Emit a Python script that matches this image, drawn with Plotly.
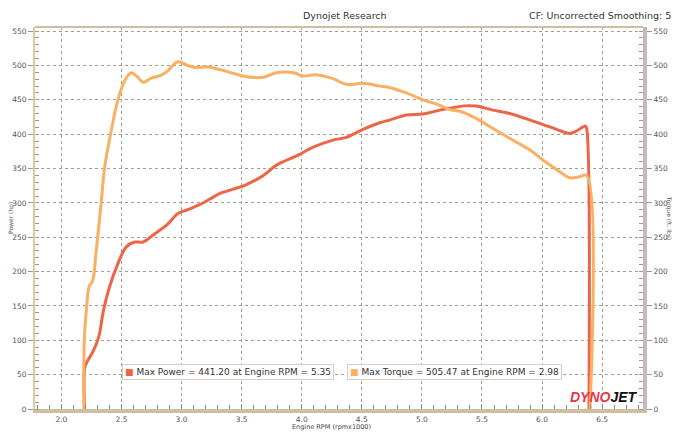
import plotly.graph_objects as go

# engine rpm (x1000) and readings taken off the dyno sheet
torque_rpm = [2.187, 2.19, 2.21, 2.23, 2.26, 2.29, 2.33, 2.36, 2.41, 2.47, 2.53, 2.58,
              2.63, 2.68, 2.74, 2.83, 2.89, 2.95, 2.98, 3.04, 3.11, 3.21, 3.32, 3.54,
              3.68, 3.79, 3.93, 4.01, 4.12, 4.26, 4.37, 4.51, 4.65, 4.73, 4.87, 5.01,
              5.15, 5.23, 5.33, 5.45, 5.59, 5.73, 5.90, 6.01, 6.12, 6.23, 6.31, 6.37,
              6.40]
torque_lbft = [0, 100, 148, 178, 187, 231, 299, 352, 401, 450, 479, 489.5,
               484, 475.5, 481, 486, 493, 504, 505.5, 500.7, 497, 498, 494, 483.7,
               482.8, 489.5, 489.5, 484.7, 486.6, 480.8, 472.6, 474, 470, 468, 460, 450,
               442, 436, 432.7, 423, 408.4, 394, 376.8, 362, 348.7, 336.5, 338, 340,
               0]

power_rpm = [2.193, 2.195, 2.22, 2.26, 2.31, 2.35, 2.40, 2.47, 2.54, 2.61, 2.68, 2.76,
             2.875, 2.97, 3.05, 3.14, 3.24, 3.32, 3.53, 3.68, 3.79, 3.97, 4.09, 4.26,
             4.37, 4.51, 4.65, 4.73, 4.87, 5.01, 5.15, 5.35, 5.45, 5.59, 5.73, 5.90,
             6.01, 6.12, 6.23, 6.29, 6.36, 6.37, 6.39]
power_hp = [0, 61, 70.7, 82.8, 104.7, 143.6, 177.6, 211.7, 236, 243, 243, 253,
            267.5, 284.5, 290, 296.6, 306, 313.7, 325.8, 340, 355, 369.5, 380.7, 391.4,
            395.3, 407, 416.6, 420.5, 427.8, 429.3, 435, 441.2, 441, 435, 430, 420.5,
            414, 407, 401, 405, 412, 409, 0]

y_ticks = [0, 50, 100, 150, 200, 250, 300, 350, 400, 450, 500, 550]
x_ticks = [2.0, 2.5, 3.0, 3.5, 4.0, 4.5, 5.0, 5.5, 6.0, 6.5]

FONT = "DejaVu Sans"
GRID = "#a39d8e"

fig = go.Figure()
fig.add_trace(go.Scatter(x=power_rpm, y=power_hp, mode="lines",
                         line=dict(color="#ee6446", width=3), line_shape="spline",
                         name="Power", showlegend=False))
fig.add_trace(go.Scatter(x=torque_rpm, y=torque_lbft, mode="lines", yaxis="y2",
                         line=dict(color="#f9b062", width=3), line_shape="spline",
                         name="Torque", showlegend=False))

yax = dict(range=[0, 556], tickvals=y_ticks, showgrid=True, gridcolor=GRID,
           griddash="dot", gridwidth=1, zeroline=False, automargin=False,
           tickfont=dict(family=FONT, size=7.5, color="#555555"),
           ticks="outside", ticklen=5, tickcolor="#a09a8a",
           minor=dict(dtick=10, ticks="inside", ticklen=4, tickcolor="#a09a8a",
                      showgrid=False))

# page body has an 8px margin, so the figure sits 8px in from the window corner
fig.update_layout(
    width=674, height=439,
    margin=dict(l=27, r=39, t=19, b=38),
    paper_bgcolor="white", plot_bgcolor="white",
    xaxis=dict(range=[1.78, 6.84], tickvals=x_ticks, ticktext=[f"{v:.1f}" for v in x_ticks],
               showgrid=True, gridcolor=GRID, griddash="dot", gridwidth=1,
               zeroline=False, showline=True, linecolor="#cdbf9f", linewidth=4,
               automargin=False,
               tickfont=dict(family=FONT, size=7.5, color="#555555"),
               ticks="inside", ticklen=5, tickcolor="#8d8a7c",
               minor=dict(dtick=0.1, ticks="inside", ticklen=4, tickcolor="#8d8a7c",
                          showgrid=False)),
    yaxis=dict(yax, showline=True, linecolor="#dccaa0", linewidth=2),
    yaxis2=dict(yax, overlaying="y", side="right", showgrid=False,
                showline=True, linecolor="#c9b7c0", linewidth=4),
    shapes=[dict(type="line", xref="paper", yref="paper", x0=0, x1=1, y0=1, y1=1,
                 line=dict(color="#cdbf9f", width=2))],
)

ann = [
    dict(text="Dynojet Research", x=0.51, y=1.049, yanchor="top",
         font=dict(family=FONT, size=9.5, color="#333")),
    dict(text="CF: Uncorrected Smoothing: 5", x=1.049, y=1.049, xanchor="right",
         yanchor="top", font=dict(family=FONT, size=9.5, color="#333")),
    dict(text="Power (hp)", textangle=-90, x=-0.0395, y=0.5,
         font=dict(family=FONT, size=6, color="#555")),
    dict(text="Torque (ft. lbs)", textangle=90, x=1.043, y=0.5,
         font=dict(family=FONT, size=6, color="#555")),
    dict(text="Engine RPM (rpmx1000)", x=0.487, y=-0.046,
         font=dict(family=FONT, size=6.5, color="#444")),
    dict(text='<span style="color:#ee6446">■</span> Max Power = 441.20 at Engine RPM = 5.35',
         x=0.143, y=0.098, xanchor="left",
         bgcolor="white", bordercolor="#d8d0c8", borderwidth=1, borderpad=2,
         font=dict(family=FONT, size=9, color="#333")),
    dict(text='<span style="color:#f9b062">■</span> Max Torque = 505.47 at Engine RPM = 2.98',
         x=0.513, y=0.098, xanchor="left",
         bgcolor="white", bordercolor="#d8d0c8", borderwidth=1, borderpad=2,
         font=dict(family=FONT, size=9, color="#333")),
    dict(text='<b><i><span style="color:#e8364f">DYNO</span>JET</i></b>',
         x=0.995, y=0.005, xanchor="right", yanchor="bottom",
         font=dict(family="Liberation Sans", size=14, color="#111")),
]
for a in ann:
    a.setdefault("showarrow", False)
    a.setdefault("xref", "paper")
    a.setdefault("yref", "paper")
    a.setdefault("xanchor", "center")
    a.setdefault("yanchor", "middle")
    fig.add_annotation(**a)

fig.write_html("out.html")
